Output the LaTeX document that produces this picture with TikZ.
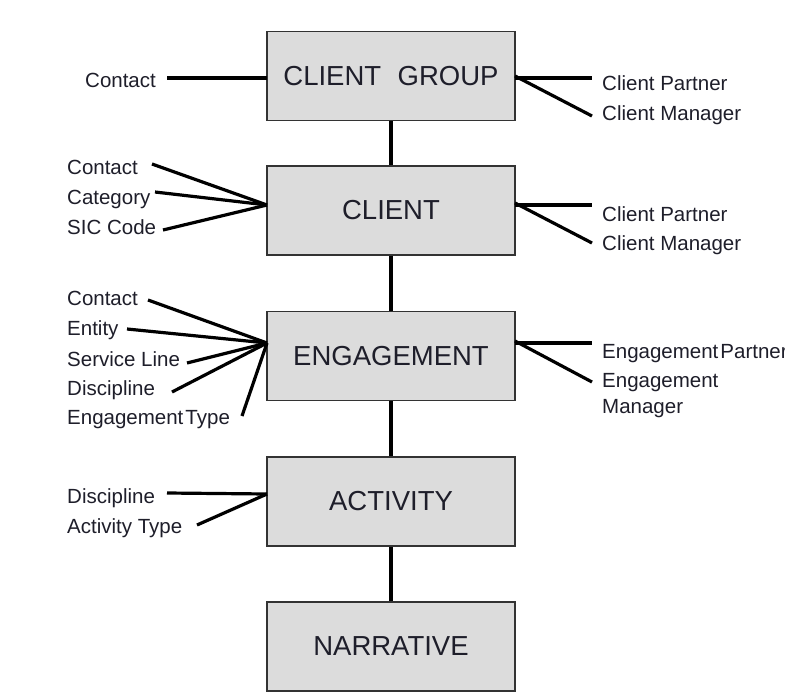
\documentclass[tikz,border=0pt]{standalone}
\usepackage{fontspec}
\setmainfont{Liberation Sans}
\definecolor{boxfill}{HTML}{DCDCDC}
\definecolor{boxline}{HTML}{333333}
\definecolor{ink}{HTML}{1E1E2A}
\begin{document}
\begin{tikzpicture}[x=1pt,y=-1pt,
  entity/.style={draw=boxline,fill=boxfill,line width=1.6pt,rectangle,
    minimum width=248pt,minimum height=89pt,inner sep=0pt,text=ink,
    font=\fontsize{27.5}{30}\selectfont},
  attr/.style={anchor=base west,inner sep=0pt,text=ink,
    font=\fontsize{20.5}{24}\selectfont},
  link/.style={line width=3.6pt,black},
  spoke/.style={line width=3.2pt,black}]
\useasboundingbox[fill=white] (0,0) rectangle (785,699);
\clip (0,0) rectangle (785,699);

% entity boxes
\node[entity] (cg)  at (391,76)    {CLIENT\hspace{0.6em}GROUP};
\node[entity] (cl)  at (391,210.5) {CLIENT};
\node[entity] (en)  at (391,356)   {ENGAGEMENT};
\node[entity] (ac)  at (391,501.5) {ACTIVITY};
\node[entity] (na)  at (391,646.5) {NARRATIVE};

% hierarchy links
\draw[link] (cg.south) -- (cl.north);
\draw[link] (cl.south) -- (en.north);
\draw[link] (en.south) -- (ac.north);
\draw[link] (ac.south) -- (na.north);

% ---- CLIENT GROUP attributes
\node[attr] (cgcontact) at (85,87) {Contact};
\coordinate (cgL) at (267,78);
\coordinate (cgcontactE) at (167,78);
\draw[spoke] (cgcontactE) -- (cgL);

\node[attr] (cgpartner) at (602,90) {Client Partner};
\node[attr] (cgmanager) at (602,120) {Client Manager};
\coordinate (cgR) at (515,78);
\coordinate (cgpartnerW) at (592,78);
\coordinate (cgmanagerW) at (592,116);
\draw[spoke] (cgR) -- (cgpartnerW);
\draw[spoke] ([yshift=2pt]cgR) -- (cgmanagerW);

% ---- CLIENT attributes
\node[attr] (clcontact)  at (67,174) {Contact};
\node[attr] (clcategory) at (67,204) {Category};
\node[attr] (clsic)      at (67,234) {SIC Code};
\coordinate (clL) at (267,205);
\coordinate (clcontactE)  at (152,164);
\coordinate (clcategoryE) at (155,192);
\coordinate (clsicE)      at (163,230);
\draw[spoke] (clcontactE) -- (clL);
\draw[spoke] (clcategoryE) -- (clL);
\draw[spoke] (clsicE) -- (clL);

\node[attr] (clpartner) at (602,221) {Client Partner};
\node[attr] (clmanager) at (602,250) {Client Manager};
\coordinate (clR) at (515,205);
\coordinate (clpartnerW) at (592,205);
\coordinate (clmanagerW) at (592,243);
\draw[spoke] (clR) -- (clpartnerW);
\draw[spoke] ([yshift=2pt]clR) -- (clmanagerW);

% ---- ENGAGEMENT attributes
\node[attr] (encontact)    at (67,305) {Contact};
\node[attr] (enentity)     at (67,335) {Entity};
\node[attr] (enservice)    at (67,366) {Service Line};
\node[attr] (endiscipline) at (67,395) {Discipline};
\node[attr] (entype)       at (67,424) {Engagement\hspace{0.1em}Type};
\coordinate (enL) at (267,343);
\coordinate (encontactE)    at (148,300);
\coordinate (enentityE)     at (127,329);
\coordinate (enserviceE)    at (187,363);
\coordinate (endisciplineE) at (172,392);
\coordinate (entypeE)       at (242,416);
\draw[spoke] (encontactE) -- (enL);
\draw[spoke] (enentityE) -- (enL);
\draw[spoke] (enserviceE) -- (enL);
\draw[spoke] (endisciplineE) -- (enL);
\draw[spoke] (entypeE) -- (enL);

\node[attr] (enpartner) at (602,358) {Engagement\hspace{0.1em}Partner};
\node[attr] (enmanager) at (602,387) {Engagement};
\node[attr] (enmanager2) at (602,413) {Manager};
\coordinate (enR) at (515,343);
\coordinate (enpartnerW) at (592,343);
\coordinate (enmanagerW) at (592,382);
\draw[spoke] (enR) -- (enpartnerW);
\draw[spoke] ([yshift=2pt]enR) -- (enmanagerW);

% ---- ACTIVITY attributes
\node[attr] (acdiscipline) at (67,503) {Discipline};
\node[attr] (actype)       at (67,533) {Activity Type};
\coordinate (acL) at (267,494);
\coordinate (acdisciplineE) at (167,493);
\coordinate (actypeE)       at (197,525);
\draw[spoke] (acdisciplineE) -- (acL);
\draw[spoke] (actypeE) -- (acL);
\end{tikzpicture}
\end{document}
